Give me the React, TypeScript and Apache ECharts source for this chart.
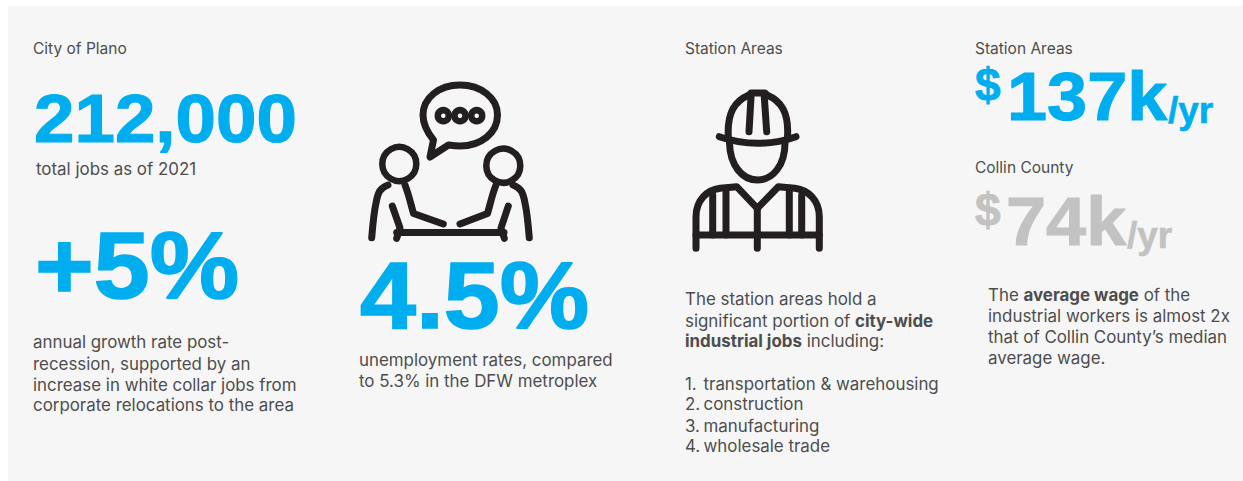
import React, { useEffect, useRef } from "react";
import * as echarts from "echarts";

const BLUE = "#00aeef";
const GREY = "#c2c2c2";
const INK = "#4d4d4d";
const ICON = "#231f20";
const FONT = "Inter, 'Noto Sans', sans-serif";
const HEAVY = "'Liberation Sans', Arial, sans-serif";

const headings = [
  { text: "City of Plano", x: 33, y: 48 },
  { text: "Station Areas", x: 685, y: 48 },
  { text: "Station Areas", x: 975, y: 48 },
  { text: "Collin County", x: 975, y: 167 },
];

const bigStats = [
  { text: "212,000", x: 34, y: 118, size: 68, color: BLUE },
  { text: "+5%", x: 35, y: 266, size: 94, color: BLUE },
  { text: "4.5%", x: 360, y: 296, size: 94, color: BLUE },
];

const growthNote = [
  "annual growth rate post-",
  "recession, supported by an",
  "increase in white collar jobs from",
  "corporate relocations to the area",
];
const unemploymentNote = ["unemployment rates, compared", "to 5.3% in the DFW metroplex"];
const stationNote = [
  "The station areas hold a",
  "significant portion of {b|city-wide}",
  "{b|industrial jobs} including:",
];
const industryRanks = ["1.", "2.", "3.", "4."];
const industries = ["transportation & warehousing", "construction", "manufacturing", "wholesale trade"];
const wageNote = [
  "The {b|average wage} of the",
  "industrial workers is almost 2x",
  "that of Collin County\u2019s median",
  "average wage.",
];

const wages = [
  { amount: "137k", dollarX: 975, amountX: 1007, unitX: 1168, y: 97, color: BLUE },
  { amount: "74k", dollarX: 975, amountX: 1006, unitX: 1127, y: 222, color: GREY },
];

const talkPaths = [
  "M433.5 140C427 132 423 124 423 115C423 98 439 85 460 85C481 85 497.5 98 497.5 115C497.5 133 481 146 460 146C456 146 452 145.5 448.5 145L430 157Z",
  "M371.7 237.7C373 222 374 212 376 203C378 192 380 188 388 185",
  "M405 185C409 195 411 205 413.5 213.5L443.3 224",
  "M529.3 237.7C528 222 527 212 525 203C523 192 521 188 513 185",
  "M496 185C492 195 490 205 487.5 213.5L460 224",
  "M396.7 232.5L504 232.5",
  "M392.3 206L400 228L396.7 238.3",
  "M508.3 206L501 228L504.3 238.3",
];
const workerPaths = [
  "M728.3 137C727 112 735 101 749 95L751 93L765 93L767 95C781 101 789 112 787.5 137",
  "M719.3 136.7C735 142 745 143.3 757.3 143.3C770 143.3 781 142 796 136.7",
  "M749 131.7L751 97",
  "M766.7 131.7L764.3 97",
  "M729.5 143C730 165 742 180 757.3 180C773 180 785 165 785 143",
  "M696 248.3L696 216.7C696 200 707 190 720 188.3L736.7 186.7L757.3 208.3L778.3 186.7L795 188.3C808 190 819.3 200 819.3 216.7L819.3 248.3",
  "M757.3 208.3L757.3 248.3",
  "M696 235L819.3 235",
  "M712.7 195L712.7 235",
  "M726 192L726 235",
  "M789.3 192L789.3 235",
  "M801.7 195L801.7 235",
];
const talkHeads = [
  { x: 399.3, y: 164 },
  { x: 503.3, y: 165.7 },
];
const talkDots = [443.3, 460, 476.7];

function label(text: string, x: number, y: number, fontSize: number, fill: string, fontWeight: any = 400, fontFamily = FONT) {
  return {
    type: "text",
    x,
    y,
    silent: true,
    style: {
      text,
      fill,
      fontSize,
      fontWeight,
      fontFamily,
      align: "left",
      verticalAlign: "middle",
      rich: { b: { fontSize, fontWeight: 700, fill, fontFamily } },
    },
  };
}

// Display numerals: slightly widened and thickened so the grotesque bold reads heavier.
function display(text: string, x: number, y: number, fontSize: number, fill: string, widen: number, weight: number) {
  const base: any = label(text, x, y, fontSize, fill, 700, HEAVY);
  base.scaleX = widen;
  base.style.stroke = fill;
  base.style.lineWidth = weight;
  return base;
}

function block(lines: string[], x: number, ys: number[]) {
  return lines.map((line, i) => label(line, x, ys[i], 16.9, INK));
}

function stroked(name: string, lineWidth: number) {
  return {
    type: name,
    silent: true,
    style: { fill: "none", stroke: ICON, lineWidth, lineCap: "round", lineJoin: "round" },
  };
}

function buildOption() {
  const iconPaths = talkPaths.concat(workerPaths);
  iconPaths.forEach((d, i) => {
    echarts.graphic.registerShape("iconStroke" + i, echarts.graphic.extendPath(d, {}));
  });
  const iconShapes = iconPaths.map((_, i) => stroked("iconStroke" + i, 7));
  const rings = [
    ...talkHeads.map((h) => ({ ...h, r: 17 })),
    ...talkDots.map((x) => ({ x, y: 115.7, r: 5.5 })),
  ].map((c) => ({
    type: "circle",
    silent: true,
    shape: { cx: c.x, cy: c.y, r: c.r },
    style: { fill: "none", stroke: ICON, lineWidth: 6.5 },
  }));

  const elements: any[] = [
    { type: "rect", silent: true, shape: { x: 8, y: 6, width: 1235, height: 475 }, style: { fill: "#f6f6f6" } },
    ...iconShapes,
    ...rings,
    ...headings.map((h) => label(h.text, h.x, h.y, 15.5, INK)),
    ...bigStats.map((s) => display(s.text, s.x, s.y, s.size, s.color, 1.07, s.size > 80 ? 1.6 : 1.1)),
    label("total jobs as of 2021", 36, 169, 16.9, INK),
    ...block(growthNote, 33, [342, 364, 385, 405]),
    ...block(unemploymentNote, 359, [360, 381]),
    ...block(stationNote, 685, [299, 321, 341]),
    ...block(industryRanks, 685, [384, 404, 426, 446]),
    ...block(industries, 703.5, [384, 404, 426, 446]),
    ...block(wageNote, 988, [295, 316, 337, 358]),
  ];
  wages.forEach((w) => {
    elements.push(display("$", w.dollarX, w.y - 12, 46, w.color, 1, 0.8));
    elements.push(display(w.amount, w.amountX, w.y, 68, w.color, 1.06, 1.1));
    elements.push(display("/yr", w.unitX, w.y + 13, 37, w.color, 1, 0.6));
  });
  return { animation: false, graphic: { elements } };
}

export default function App() {
  const ref = useRef<HTMLDivElement>(null);
  useEffect(() => {
    const chart = echarts.init(ref.current!, undefined, { renderer: "svg" });
    chart.setOption(buildOption());
    return () => chart.dispose();
  }, []);
  return <div ref={ref} style={{ position: "fixed", left: 0, top: 0, width: 1243, height: 481, background: "#fff" }} />;
}
